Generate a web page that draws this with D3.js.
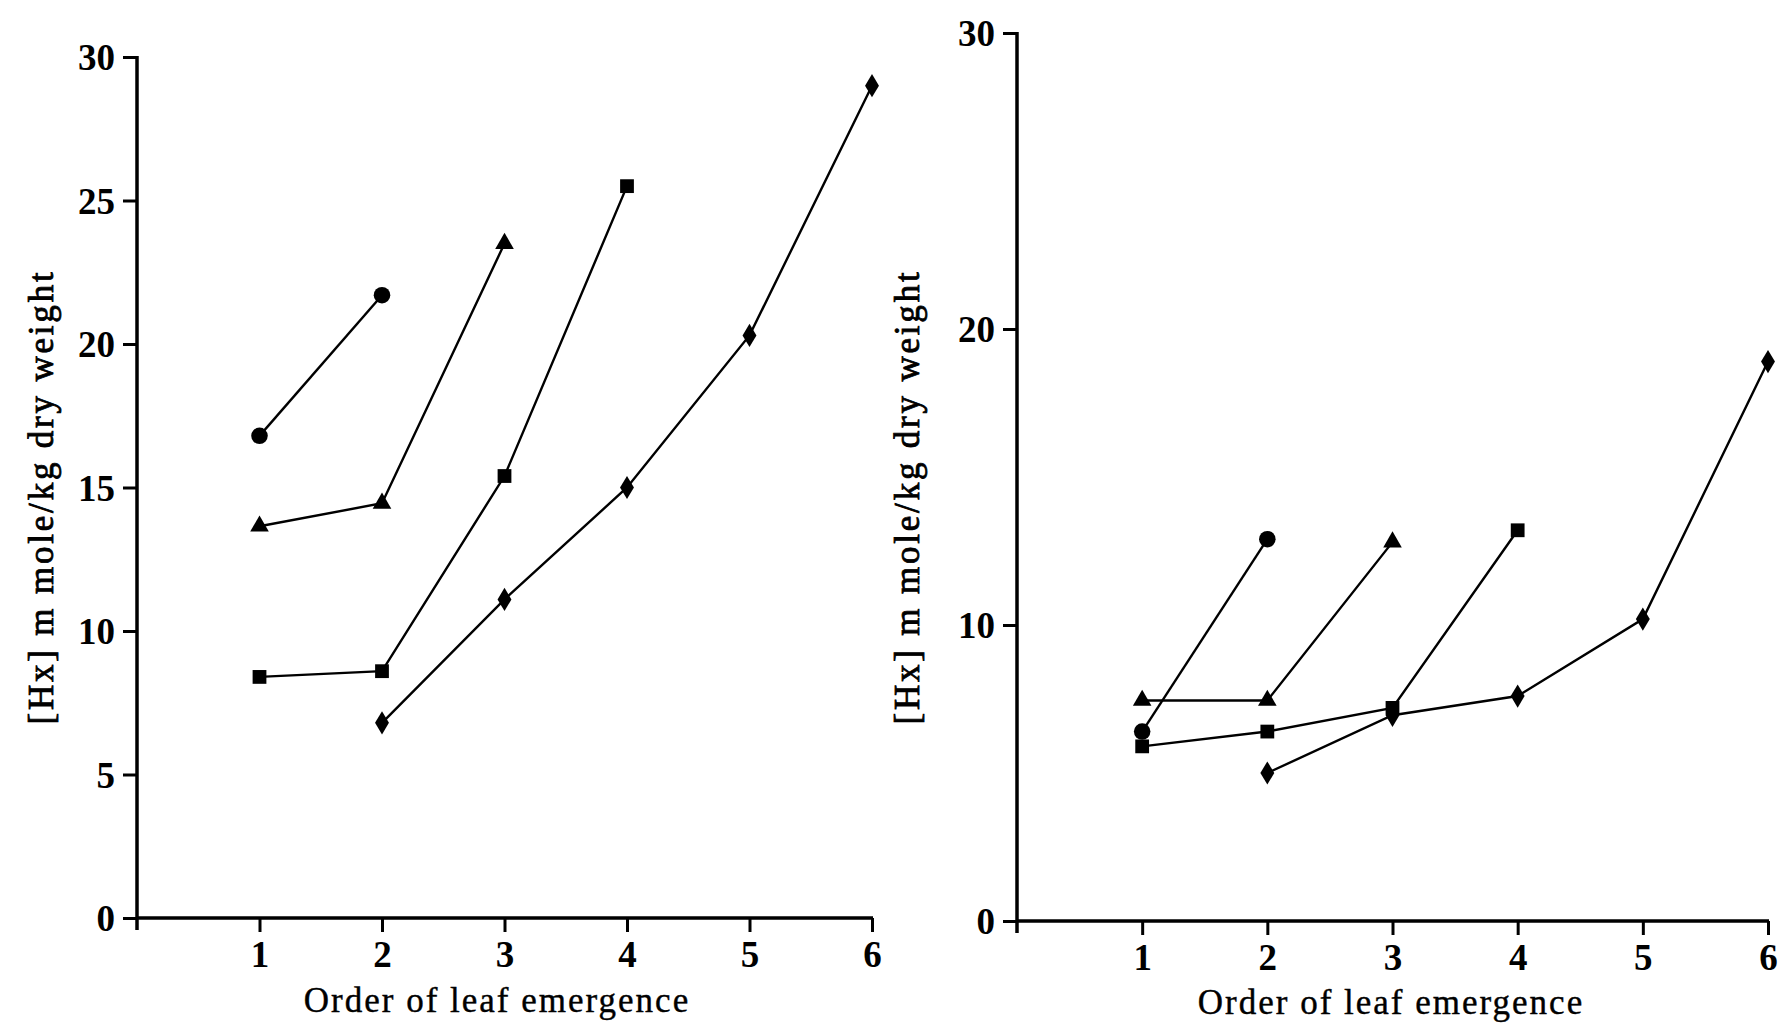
<!DOCTYPE html>
<html>
<head>
<meta charset="utf-8">
<script src="https://cdn.jsdelivr.net/npm/d3@7"></script>
<style>
  html, body { margin: 0; padding: 0; background: #fff; }
  svg { display: block; }
  text { font-family: "Liberation Serif", "Times New Roman", serif; fill: #000; }
</style>
</head>
<body>
<svg id="chart" width="1778" height="1025"></svg>
<script>
// ---------- data ----------
const leafTicks = [1, 2, 3, 4, 5, 6];
const leftYTicks = [0, 5, 10, 15, 20, 25, 30];
const rightYTicks = [0, 10, 20, 30];
const xTitle = "Order of leaf emergence";
const yTitle = "[Hx] m mole/kg dry weight";

// Left panel series
const leftCircleX = [1, 2];
const leftCircle = [16.8, 21.7];
const leftTriangleX = [1, 2, 3];
const leftTriangle = [13.65, 14.45, 23.5];
const leftSquareX = [1, 2, 3, 4];
const leftSquare = [8.4, 8.6, 15.4, 25.5];
const leftDiamondX = [2, 3, 4, 5, 6];
const leftDiamond = [6.8, 11.1, 15.0, 20.3, 29.0];

// Right panel series
const rightCircleX = [1, 2];
const rightCircle = [6.4, 12.9];
const rightTriangleX = [1, 2, 3];
const rightTriangle = [7.45, 7.45, 12.8];
const rightSquareX = [1, 2, 3, 4];
const rightSquare = [5.9, 6.4, 7.2, 13.2];
const rightDiamondX = [2, 3, 4, 5, 6];
const rightDiamond = [5.0, 6.95, 7.6, 10.2, 18.9];

// ---------- drawing ----------
const svg = d3.select("#chart");

function zip(xs, ys) { return xs.map((x, i) => ({x: x, y: ys[i]})); }

// tall diamond symbol type
const tallDiamond = {
  draw(context, size) {
    const h = Math.sqrt(size) * 0.82, w = h * 0.6;
    context.moveTo(0, -h);
    context.lineTo(w, 0);
    context.lineTo(0, h);
    context.lineTo(-w, 0);
    context.closePath();
  }
};

const symbols = {
  circle: d3.symbol().type(d3.symbolCircle).size(215),
  square: d3.symbol().type(d3.symbolSquare).size(190),
  triangle: d3.symbol().type(d3.symbolTriangle).size(150),
  diamond: d3.symbol().type(tallDiamond).size(200)
};

function panel(cfg) {
  const x = d3.scaleLinear().domain([0, 6]).range([cfg.x0, cfg.x1]);
  const y = d3.scaleLinear().domain([0, 30]).range([cfg.y0, cfg.y1]);
  const g = svg.append("g");

  // y axis
  const yAxis = d3.axisLeft(y).tickValues(cfg.yTicks).tickSize(14).tickSizeOuter(0).tickPadding(8).tickFormat(d3.format("d"));
  const ya = g.append("g").attr("transform", `translate(${x(0)},0)`).call(yAxis);
  ya.select(".domain").remove();
  ya.selectAll(".tick line").attr("stroke", "#000").attr("stroke-width", 3);
  ya.selectAll(".tick text").attr("font-size", 37).attr("font-weight", "bold")
    .attr("font-family", "Liberation Serif, serif").attr("dy", "0.34em");

  // x axis
  const xAxis = d3.axisBottom(x).tickValues(leafTicks).tickSize(14).tickSizeOuter(0).tickFormat(d3.format("d"));
  const xa = g.append("g").attr("transform", `translate(0,${y(0)})`).call(xAxis);
  xa.select(".domain").remove();
  xa.selectAll(".tick line").attr("stroke", "#000").attr("stroke-width", 3);
  xa.selectAll(".tick text").attr("font-size", 37).attr("font-weight", "bold")
    .attr("font-family", "Liberation Serif, serif").attr("y", 49).attr("dy", 0);

  // axis lines
  g.append("line").attr("x1", x(0)).attr("x2", x(0)).attr("y1", y(30) - 1).attr("y2", y(0) + 12)
    .attr("stroke", "#000").attr("stroke-width", 3.5);
  g.append("line").attr("x1", x(0)).attr("x2", x(6) + 1).attr("y1", y(0)).attr("y2", y(0))
    .attr("stroke", "#000").attr("stroke-width", 3.5);

  // titles
  g.append("text").attr("x", cfg.xTitleX).attr("y", cfg.xTitleY).attr("text-anchor", "middle")
    .attr("font-size", 35).attr("letter-spacing", 2)
    .attr("stroke", "#000").attr("stroke-width", 0.4).text(xTitle);
  g.append("text").attr("transform", `translate(${cfg.yTitleX},${cfg.yTitleY}) rotate(-90)`)
    .attr("text-anchor", "middle").attr("font-size", 35).attr("letter-spacing", 2.8)
    .attr("stroke", "#000").attr("stroke-width", 0.8).text(yTitle);

  const line = d3.line().x(d => x(d.x)).y(d => y(d.y));
  cfg.series.forEach(s => {
    const pts = zip(s.xs, s.ys);
    g.append("path").datum(pts).attr("d", line).attr("fill", "none")
      .attr("stroke", "#000").attr("stroke-width", 2.4);
    g.selectAll(null).data(pts).enter().append("path")
      .attr("d", symbols[s.type])
      .attr("transform", d => `translate(${x(d.x)},${y(d.y)})`)
      .attr("fill", "#000");
  });
}

panel({
  x0: 137, x1: 872, y0: 918, y1: 57, yTicks: leftYTicks,
  xTitleX: 497, xTitleY: 1012, yTitleX: 53, yTitleY: 497,
  series: [
    {type: "circle", xs: leftCircleX, ys: leftCircle},
    {type: "triangle", xs: leftTriangleX, ys: leftTriangle},
    {type: "square", xs: leftSquareX, ys: leftSquare},
    {type: "diamond", xs: leftDiamondX, ys: leftDiamond}
  ]
});

panel({
  x0: 1017, x1: 1768, y0: 921, y1: 33, yTicks: rightYTicks,
  xTitleX: 1391, xTitleY: 1014, yTitleX: 919, yTitleY: 497,
  series: [
    {type: "circle", xs: rightCircleX, ys: rightCircle},
    {type: "triangle", xs: rightTriangleX, ys: rightTriangle},
    {type: "square", xs: rightSquareX, ys: rightSquare},
    {type: "diamond", xs: rightDiamondX, ys: rightDiamond}
  ]
});
</script>
</body>
</html>
